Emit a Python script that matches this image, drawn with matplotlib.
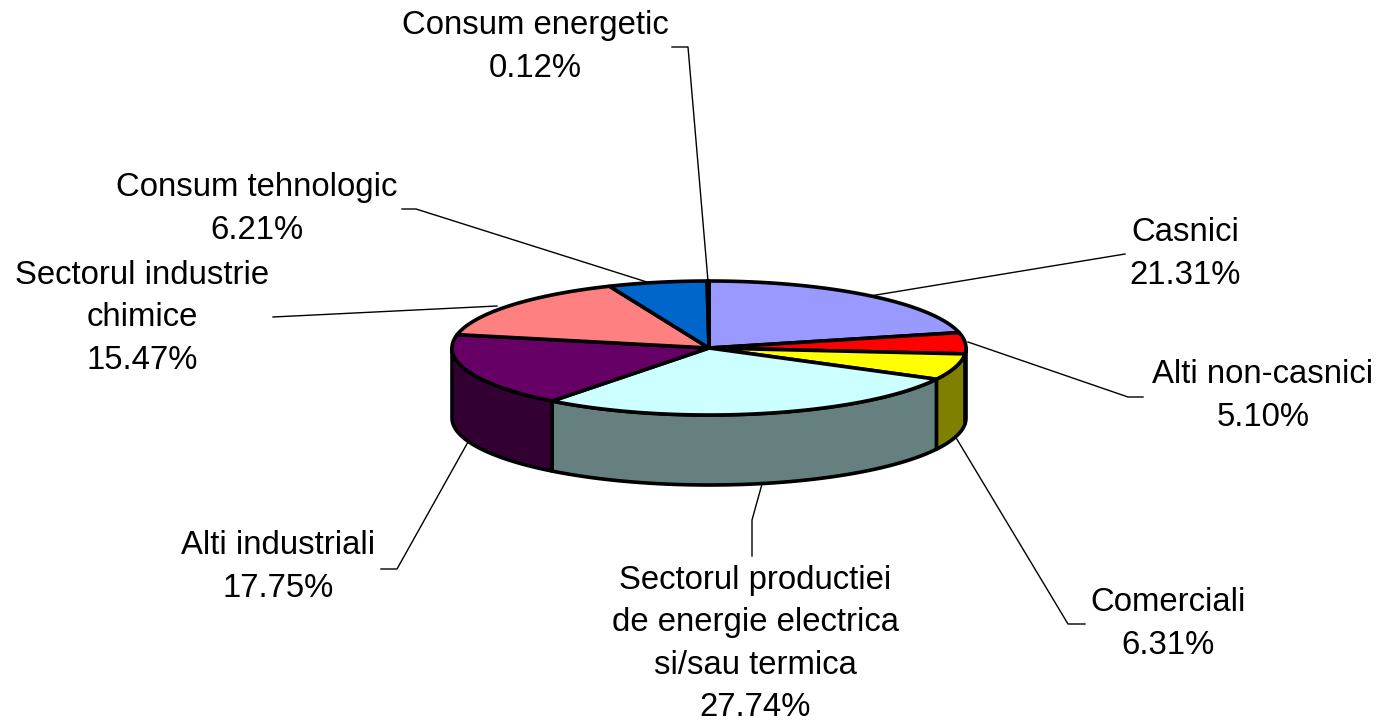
import numpy as np
import matplotlib
matplotlib.use('Agg')
import matplotlib.pyplot as plt

labels = ['Casnici', 'Alti non-casnici', 'Comerciali',
          'Sectorul productiei\nde energie electrica\nsi/sau termica',
          'Alti industriali', 'Sectorul industrie\nchimice',
          'Consum tehnologic', 'Consum energetic']
values = [21.31, 5.10, 6.31, 27.74, 17.75, 15.47, 6.21, 0.12]
top_colors = ['#9999FF', '#FF0000', '#FFFF00', '#CCFFFF', '#660066', '#FF8080', '#0066CC', '#CCCCFF']
side_colors = ['#666699', '#800000', '#808000', '#668080', '#330033', '#804040', '#003366', '#666680']

# Centre of each label in pixels
label_x = [1185, 1263, 1168, 755, 278, 142, 257, 535]
label_y = [254, 396, 624, 644, 567, 318, 209, 47]

# Leader lines in pixels
leader_lines = [
    [(1125, 254), (870, 296)],
    [(1143, 397), (1128, 397), (968, 342)],
    [(1085, 624), (1068, 624), (955, 436)],
    [(752, 556), (752, 520), (762, 484)],
    [(381, 569), (397, 569), (468, 442)],
    [(273, 317), (497, 306)],
    [(402, 209), (416, 209), (650, 283)],
    [(672, 47), (688, 47), (708, 281)],
]

# Pie geometry in pixels
cx, cy = 709, 348
rx, ry = 257, 67
depth = 70


def ellipse_points(start, stop, shift=0):
    # Angles are degrees clockwise from 12 o'clock
    theta = np.radians(np.linspace(start, stop, 200))
    return np.column_stack([cx + rx * np.sin(theta), cy - ry * np.cos(theta) + shift])


def main():
    plt.rcParams['font.family'] = ['Liberation Sans', 'DejaVu Sans']
    fig = plt.figure(figsize=(13.83, 7.22), dpi=100)
    ax = fig.add_axes([0, 0, 1, 1])
    ax.set_xlim(0, 1383)
    ax.set_ylim(722, 0)
    ax.axis('off')

    edges = np.cumsum([0] + values) / sum(values) * 360

    # The rim first, only the part facing the viewer
    for i in range(len(values)):
        start = max(edges[i], 90)
        stop = min(edges[i + 1], 270)
        if start >= stop:
            continue
        upper = ellipse_points(start, stop)
        lower = ellipse_points(start, stop, depth)
        ax.fill(np.r_[upper[:, 0], lower[::-1, 0]], np.r_[upper[:, 1], lower[::-1, 1]],
                facecolor=side_colors[i], edgecolor='black', linewidth=2.6, joinstyle='round')

    # Top face
    for i in range(len(values)):
        arc = ellipse_points(edges[i], edges[i + 1])
        ax.fill(np.r_[cx, arc[:, 0]], np.r_[cy, arc[:, 1]],
                facecolor=top_colors[i], edgecolor='black', linewidth=2.6, joinstyle='round')

    for line in leader_lines:
        xs, ys = zip(*line)
        ax.plot(xs, ys, color='black', linewidth=1.0, zorder=1)

    for i in range(len(values)):
        ax.text(label_x[i], label_y[i], f'{labels[i]}\n{values[i]:.2f}%', ha='center', va='center',
                fontsize=23.7, linespacing=1.48, color='black')

    fig.savefig('out.png', dpi=100)


if __name__ == '__main__':
    main()
